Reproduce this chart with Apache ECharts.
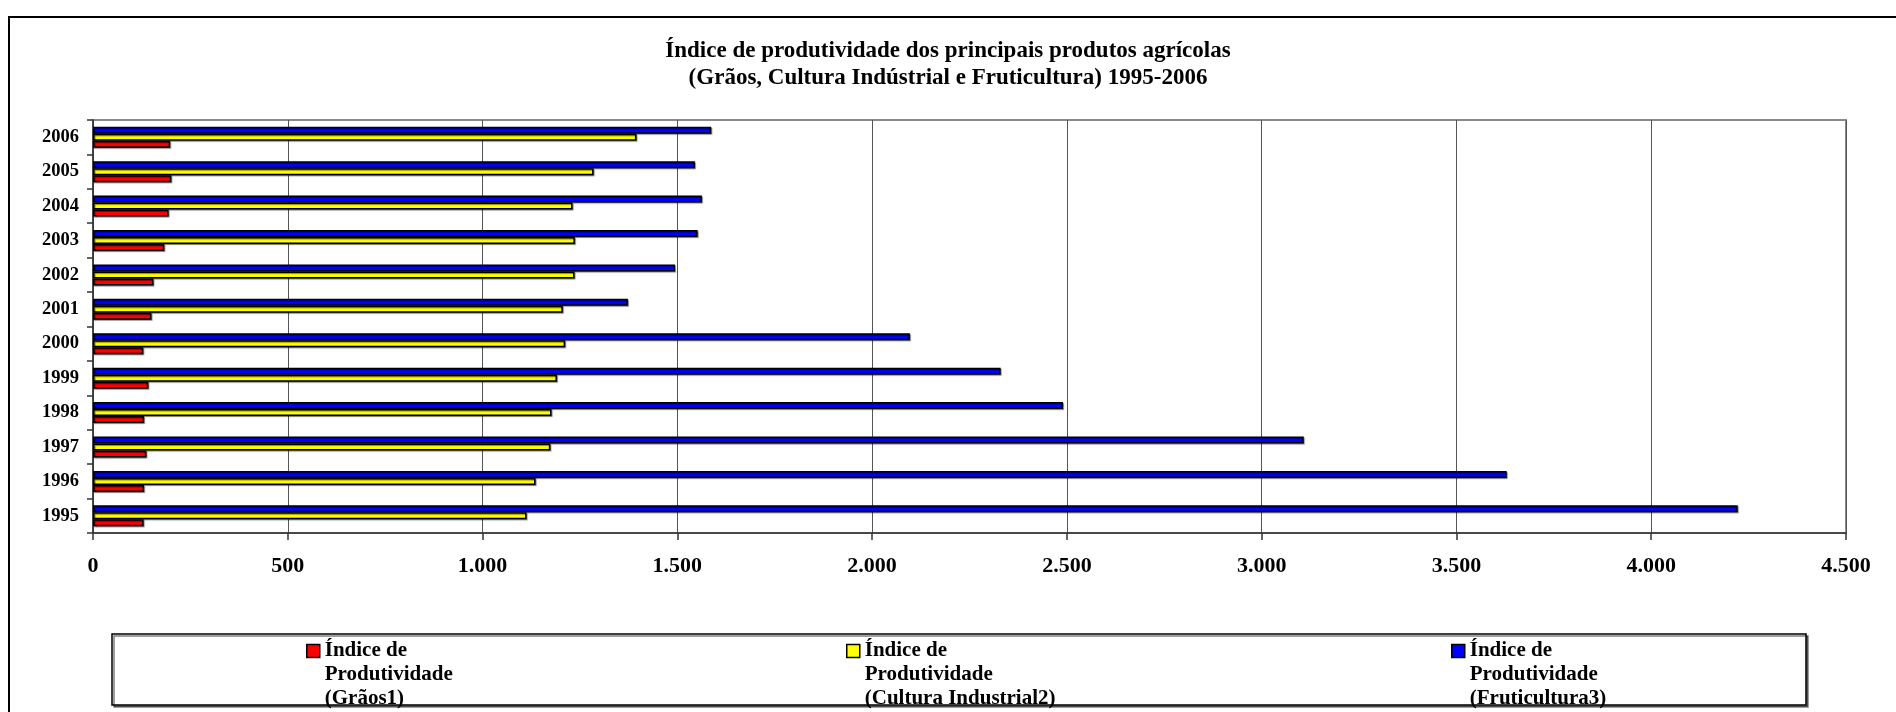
<!DOCTYPE html>
<html>
<head>
<meta charset="utf-8">
<script src="https://cdn.jsdelivr.net/npm/echarts@6/dist/echarts.min.js"></script>
<style>
html,body{margin:0;padding:0;background:#fff;}
#chart{width:1896px;height:712px;}
</style>
</head>
<body>
<div id="chart"></div>
<script>
var years = ['1995','1996','1997','1998','1999','2000','2001','2002','2003','2004','2005','2006'];
var graos = [130, 131, 137, 131, 142, 129, 150, 155, 183, 194, 201, 198];
var cultura = [1113, 1136, 1174, 1177, 1191, 1212, 1206, 1236, 1237, 1231, 1285, 1395];
var fruticultura = [4222, 3629, 3108, 2490, 2330, 2097, 1373, 1494, 1552, 1563, 1545, 1587];
var seriesNames = ['Índice de Produtividade (Grãos1)', 'Índice de Produtividade (Cultura Industrial2)', 'Índice de Produtividade (Fruticultura3)'];
var seriesColors = ['#FF0000', '#FFFF00', '#0000FF'];
var titleText = 'Índice de produtividade dos principais produtos agrícolas\n(Grãos, Cultura Indústrial e Fruticultura) 1995-2006';

var FONT = "'Liberation Serif', 'Times New Roman', serif";
var chart = echarts.init(document.getElementById('chart'), null, {renderer: 'canvas'});

function fmtNum(v) {
  return String(v).replace(/\B(?=(\d{3})+(?!\d))/g, '.');
}
function legendFmt(name) {
  return '\n\n' + name.replace('Índice de Produtividade ', 'Índice de\nProdutividade\n');
}
var dataSets = [graos, cultura, fruticultura];
var series = [2, 1, 0].map(function (i) {
  return {
    name: seriesNames[i],
    type: 'bar',
    data: dataSets[i],
    barWidth: 7,
    barGap: '0%',
    itemStyle: {
      color: seriesColors[i],
      borderColor: '#000',
      borderWidth: 1.5,
      shadowColor: 'rgba(0,0,0,0.45)',
      shadowOffsetX: 1,
      shadowOffsetY: 1,
      shadowBlur: 1
    },
    animation: false
  };
});
var legendLefts = [301, 841, 1446];
var LH = 24;
var legends = seriesNames.map(function (n, i) {
  return {
    data: [n],
    left: legendLefts[i],
    top: 646 - 2.5 * LH,
    orient: 'horizontal',
    icon: 'rect',
    itemWidth: 13,
    itemHeight: 13,
    itemStyle: {borderColor: '#000', borderWidth: 1.5},
    selectedMode: false,
    formatter: legendFmt,
    textStyle: {
      fontFamily: FONT, fontWeight: 'bold', fontSize: 21, color: '#000',
      lineHeight: LH
    }
  };
});

var option = {
  backgroundColor: '#fff',
  animation: false,
  title: {
    text: titleText,
    left: 'center',
    top: 38,
    padding: [0, 0, 0, 16],
    textStyle: {fontFamily: FONT, fontWeight: 'bold', fontSize: 23, color: '#000', lineHeight: 27, align: 'center'}
  },
  legend: legends,
  grid: {
    left: 93, right: 50, top: 120, bottom: 179,
    show: true, borderColor: '#8a8a8a', borderWidth: 2, backgroundColor: 'transparent'
  },
  xAxis: {
    type: 'value',
    min: 0, max: 4500, interval: 500,
    axisLine: {show: true, lineStyle: {color: '#333', width: 1.5}},
    axisTick: {show: true, length: 7, inside: false, lineStyle: {color: '#333', width: 1.5}},
    splitLine: {show: true, lineStyle: {color: '#555', width: 1}},
    axisLabel: {
      margin: 22, fontFamily: FONT, fontWeight: 'bold', fontSize: 22, color: '#000',
      formatter: fmtNum
    }
  },
  yAxis: {
    type: 'category',
    data: years,
    axisLine: {show: true, lineStyle: {color: '#333', width: 1.5}},
    axisTick: {show: true, length: 6, lineStyle: {color: '#333', width: 1.5}},
    splitLine: {show: false},
    axisLabel: {margin: 14, fontFamily: FONT, fontWeight: 'bold', fontSize: 18.5, color: '#000'}
  },
  graphic: [
    {
      type: 'rect', silent: true, z: -10,
      shape: {x: 9, y: 17, width: 1900, height: 720},
      style: {fill: 'none', stroke: '#000', lineWidth: 2}
    },
    {
      type: 'rect', silent: true, z: -5,
      shape: {x: 112, y: 634, width: 1694, height: 71},
      style: {fill: '#fff', stroke: '#000', lineWidth: 1.5, shadowColor: 'rgba(0,0,0,0.5)', shadowOffsetX: 2, shadowOffsetY: 2, shadowBlur: 0}
    }
  ],
  series: series
};
chart.setOption(option);
</script>
</body>
</html>
